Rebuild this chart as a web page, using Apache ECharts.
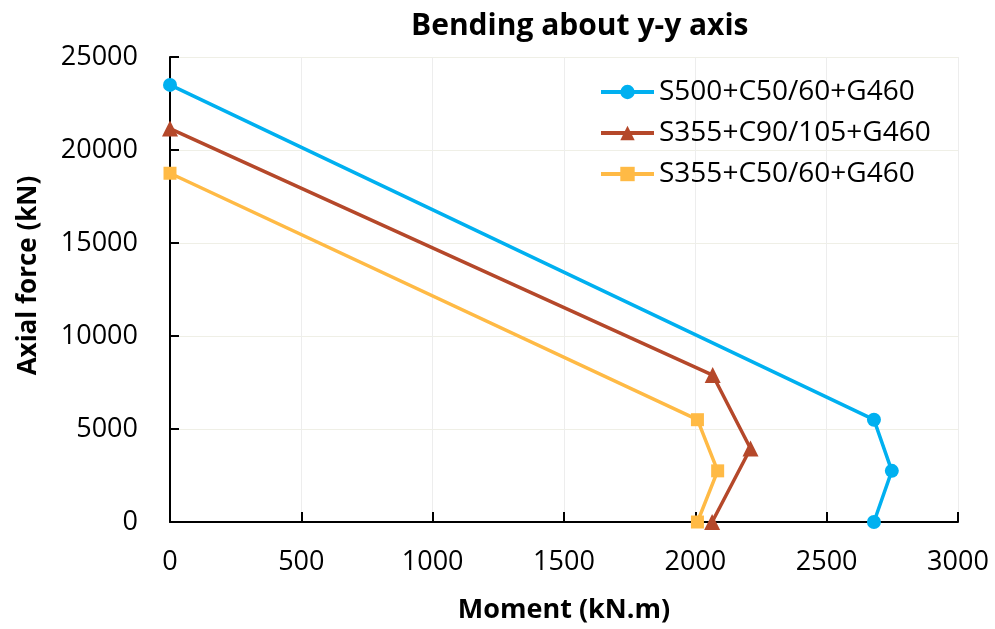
<!DOCTYPE html>
<html><head><meta charset="utf-8">
<script src="https://cdn.jsdelivr.net/npm/echarts@6/dist/echarts.min.js"></script>
<style>html,body{margin:0;padding:0;background:#fff}#c{width:995px;height:629px}</style>
</head><body><div id="c"></div>
<script>
const seriesNames = ['S500+C50/60+G460', 'S355+C90/105+G460', 'S355+C50/60+G460'];
const moment1 = [0, 2680, 2748, 2680];
const axial1 = [23500, 5500, 2750, 0];
const moment2 = [0, 2066, 2210, 2064];
const axial2 = [21150, 7900, 3950, 0];
const moment3 = [0, 2008, 2085, 2008];
const axial3 = [18750, 5500, 2750, 0];
const colors = ['#00B0F0', '#B5482A', '#FFBA45'];
const symbols = ['circle', 'triangle', 'rect'];
const symbolSizes = [14, 16, 13];
const xs = [moment1, moment2, moment3];
const ys = [axial1, axial2, axial3];
const font = '"Open Sans", "Noto Sans", sans-serif';
const chart = echarts.init(document.getElementById('c'));
chart.setOption({
  animation: false,
  title: { text: 'Bending about y-y axis', left: 406, top: 6,
    textStyle: { fontFamily: font, fontSize: 30, fontWeight: 'bold', color: '#000' } },
  legend: {
    orient: 'vertical', left: 599, top: 78, padding: 0, itemGap: 13, itemWidth: 53, itemHeight: 18,
    lineStyle: { width: 4 },
    textStyle: { fontFamily: font, fontSize: 28, lineHeight: 28, color: '#000' },
    data: seriesNames
  },
  grid: { left: 170, right: 37, top: 57, bottom: 106 },
  xAxis: {
    type: 'value', min: 0, max: 3000, interval: 500,
    name: 'Moment (kN.m)', nameLocation: 'middle', nameGap: 75,
    nameTextStyle: { fontFamily: font, fontSize: 27, fontWeight: 'bold', color: '#000' },
    axisLine: { show: true, lineStyle: { color: '#000', width: 2 } },
    axisTick: { show: true, inside: true, length: 10, lineStyle: { color: '#000', width: 2 } },
    axisLabel: { fontFamily: font, fontSize: 27, color: '#000', margin: 27, formatter: v => String(v) },
    splitLine: { show: true, lineStyle: { color: '#EDEDED', width: 1 } }
  },
  yAxis: {
    type: 'value', min: 0, max: 25000, interval: 5000,
    name: 'Axial force (kN)', nameLocation: 'middle', nameGap: 128,
    nameTextStyle: { fontFamily: font, fontSize: 26, fontWeight: 'bold', color: '#000', padding: [0, 0, 0, 28] },
    axisLine: { show: true, lineStyle: { color: '#000', width: 2 } },
    axisTick: { show: true, inside: true, length: 9, lineStyle: { color: '#000', width: 2 } },
    axisLabel: { fontFamily: font, fontSize: 27, color: '#000', margin: 32, formatter: v => String(v) },
    splitLine: { show: true, lineStyle: { color: '#EFEFE6', width: 1 } }
  },
  series: seriesNames.map((n, i) => ({
    name: n, type: 'line', symbol: symbols[i], symbolSize: symbolSizes[i],
    lineStyle: { color: colors[i], width: 3.5 },
    itemStyle: { color: colors[i] },
    data: xs[i].map((x, j) => [x, ys[i][j]])
  }))
});
</script></body></html>
